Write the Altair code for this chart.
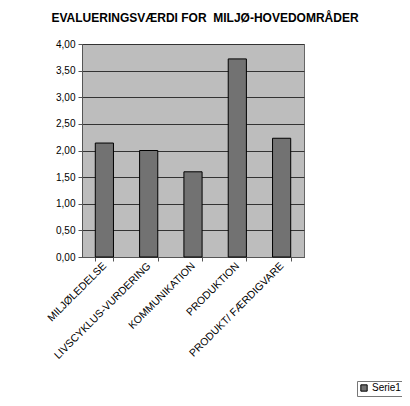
import altair as alt
import pandas as pd

categories = ["MILJØLEDELSE", "LIVSCYKLUS-VURDERING", "KOMMUNIKATION", "PRODUKTION", "PRODUKT/ FÆRDIGVARE"]
values = [2.14, 2.00, 1.60, 3.72, 2.23]
series = ["Serie1"] * 5
y_ticks = [0, 0.5, 1.0, 1.5, 2.0, 2.5, 3.0, 3.5, 4.0]

df = pd.DataFrame({"kategori": categories, "værdi": values, "serie": series})

chart = alt.Chart(df).mark_bar(stroke="black", strokeWidth=1).encode(
    x=alt.X("kategori:N", sort=categories, title=None,
            scale=alt.Scale(paddingInner=0.59, paddingOuter=0.3),
            axis=alt.Axis(labelAngle=315, labelAlign="right", labelBaseline="middle",
                          labelFontSize=10.5, labelFont="Liberation Sans", labelColor="black",
                          tickBand="extent", tickSize=4, tickColor="#555",
                          domainColor="#555", labelPadding=3, labelOverlap=False,
                          labelLimit=200)),
    y=alt.Y("værdi:Q", title=None,
            scale=alt.Scale(domain=[0, 4], nice=False),
            axis=alt.Axis(values=y_ticks, labelExpr="replace(format(datum.value, '.2f'), '.', ',')",
                          labelFontSize=10, labelFont="Liberation Sans", labelColor="black",
                          tickSize=4, tickColor="#555", domainColor="#555",
                          grid=True, gridColor="#333", gridWidth=1, labelPadding=3)),
    color=alt.Color("serie:N", scale=alt.Scale(range=["#727272"]),
                    legend=alt.Legend(title=None, orient="none", legendX=275, legendY=337,
                                      symbolType="square", symbolSize=40, symbolStrokeColor="black",
                                      symbolStrokeWidth=1, labelFontSize=10, labelFont="Liberation Sans",
                                      labelColor="black",
                                      strokeColor="#777", padding=2, labelOffset=3)),
).properties(
    width=222,
    height=213,
    title=alt.Title("EVALUERINGSVÆRDI FOR\u00a0 MILJØ-HOVEDOMRÅDER", fontSize=12,
                    font="Liberation Sans", fontWeight="bold", dx=12, offset=14, color="black"),
    autosize=alt.AutoSizeParams(type="none"),
    padding={"left": 74, "top": 36, "right": 98, "bottom": 141},
).configure_view(
    fill="#bdbdbd", stroke="#666", strokeWidth=1
)

chart.save("out.html", embed_options={"renderer": "svg", "actions": False})
